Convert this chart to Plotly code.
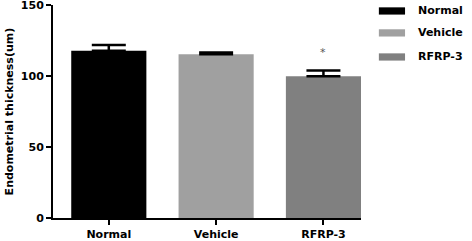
import plotly.graph_objects as go

categories = ["Normal", "Vehicle", "RFRP-3"]
means = [118, 115.5, 100]
errors_up = [4, 1.2, 4]
colors = ["#000000", "#a0a0a0", "#808080"]
y_ticks = [0, 50, 100, 150]
sig_labels = ["", "", "*"]
sig_y = [None, None, 117]

FONT = "DejaVu Sans, Arial, Liberation Sans"

fig = go.Figure()
for i, c in enumerate(categories):
    fig.add_trace(go.Bar(
        x=[i], y=[means[i]], name=c, marker=dict(color=colors[i], line=dict(width=0)),
        width=0.70,
        error_y=dict(type="data", symmetric=False, array=[errors_up[i]], arrayminus=[0],
                     color="#000000", thickness=2.5, width=17),
        showlegend=False,
    ))

for i, s in enumerate(sig_labels):
    if s:
        fig.add_annotation(x=i, y=sig_y[i], text=s, showarrow=False, xref="x", yref="y",
                           font=dict(family=FONT, size=11, color="#555555"))

# Legend built from shapes + annotations
leg_y = [0.972, 0.869, 0.756]
for i, c in enumerate(categories):
    fig.add_shape(type="rect", xref="paper", yref="paper",
                  x0=1.058, x1=1.143, y0=leg_y[i] - 0.017, y1=leg_y[i] + 0.017,
                  fillcolor=colors[i], line=dict(width=0))
    fig.add_annotation(xref="paper", yref="paper", x=1.18, y=leg_y[i], text=f"<b>{c}</b>",
                       xanchor="left", yanchor="middle", showarrow=False,
                       font=dict(family=FONT, size=11, color="#000000"))

# Y axis title as annotation
fig.add_annotation(xref="paper", yref="paper", x=-0.14, y=0.5, text="<b>Endometrial thickness(um)</b>",
                   textangle=-90, showarrow=False, xanchor="center", yanchor="middle",
                   font=dict(family=FONT, size=11, color="#000000"))

fig.update_layout(
    width=472, height=241,
    margin=dict(l=53, r=111, t=5, b=23, autoexpand=False),
    plot_bgcolor="white", paper_bgcolor="white",
    bargap=0.3,
    font=dict(family=FONT, color="#000000"),
)
fig.update_xaxes(
    range=[-0.52, 2.35], tickmode="array", tickvals=[0, 1, 2],
    ticktext=[f"<b>{c}</b>" for c in categories],
    showline=True, linecolor="black", linewidth=2,
    ticks="outside", ticklen=5, tickwidth=2, tickcolor="black",
    showgrid=False, zeroline=False, automargin=False,
    tickfont=dict(size=11, family=FONT, color="black"),
)
fig.update_yaxes(
    range=[0, 150.3], tickmode="array", tickvals=y_ticks,
    ticktext=[f"<b>{t}</b>" for t in y_ticks],
    showline=True, linecolor="black", linewidth=2,
    ticks="outside", ticklen=5, tickwidth=2, tickcolor="black",
    showgrid=False, zeroline=False, automargin=False, ticklabeloverflow="allow",
    tickfont=dict(size=11, family=FONT, color="black"),
)

fig.write_html("out.html", config={"displayModeBar": False},
               post_script="document.body.style.margin='0';")
